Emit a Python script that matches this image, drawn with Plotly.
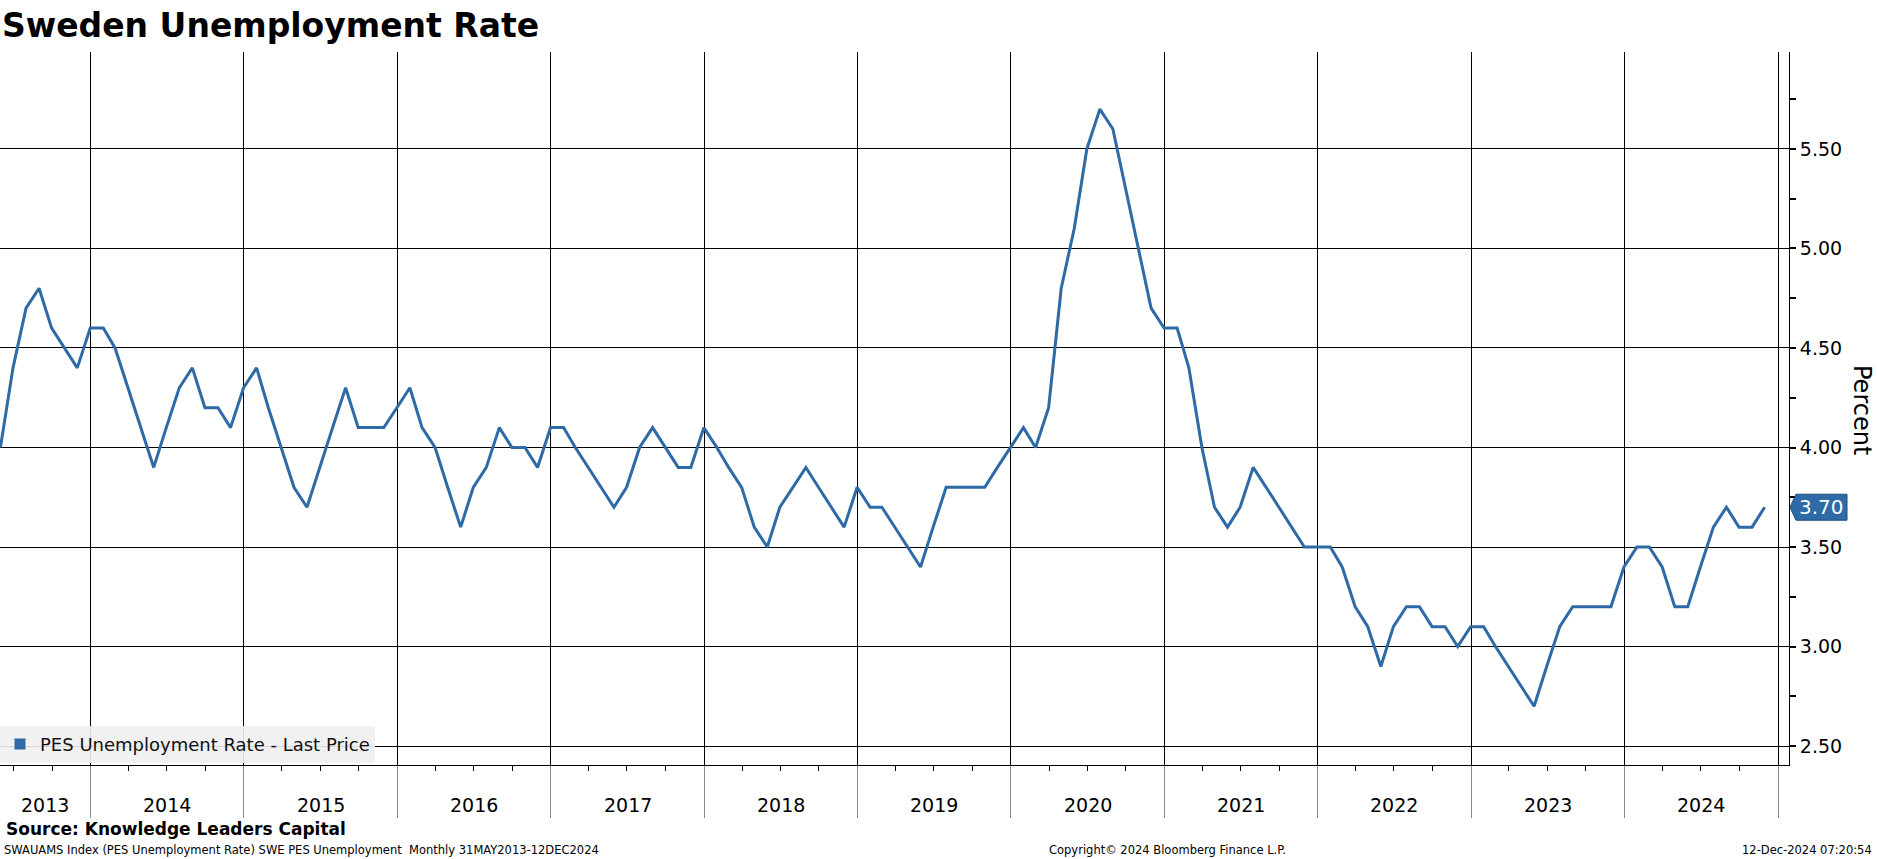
import pandas as pd
import plotly.graph_objects as go

# ---------------- data ----------------
start_month = "2013-05-31"
unemployment = [
    4.0, 4.4, 4.7, 4.8, 4.6, 4.5, 4.4, 4.6,            # May-Dec 2013
    4.6, 4.5, 4.3, 4.1, 3.9, 4.1, 4.3, 4.4, 4.2, 4.2, 4.1, 4.3,   # 2014
    4.4, 4.2, 4.0, 3.8, 3.7, 3.9, 4.1, 4.3, 4.1, 4.1, 4.1, 4.2,   # 2015
    4.3, 4.1, 4.0, 3.8, 3.6, 3.8, 3.9, 4.1, 4.0, 4.0, 3.9, 4.1,   # 2016
    4.1, 4.0, 3.9, 3.8, 3.7, 3.8, 4.0, 4.1, 4.0, 3.9, 3.9, 4.1,   # 2017
    4.0, 3.9, 3.8, 3.6, 3.5, 3.7, 3.8, 3.9, 3.8, 3.7, 3.6, 3.8,   # 2018
    3.7, 3.7, 3.6, 3.5, 3.4, 3.6, 3.8, 3.8, 3.8, 3.8, 3.9, 4.0,   # 2019
    4.1, 4.0, 4.2, 4.8, 5.1, 5.5, 5.7, 5.6, 5.3, 5.0, 4.7, 4.6,   # 2020
    4.6, 4.4, 4.0, 3.7, 3.6, 3.7, 3.9, 3.8, 3.7, 3.6, 3.5, 3.5,   # 2021
    3.5, 3.4, 3.2, 3.1, 2.9, 3.1, 3.2, 3.2, 3.1, 3.1, 3.0, 3.1,   # 2022
    3.1, 3.0, 2.9, 2.8, 2.7, 2.9, 3.1, 3.2, 3.2, 3.2, 3.2, 3.4,   # 2023
    3.5, 3.5, 3.4, 3.2, 3.2, 3.4, 3.6, 3.7, 3.6, 3.6, 3.7,        # Jan-Nov 2024
]
try:
    dates = pd.date_range(start_month, periods=len(unemployment), freq="ME")
except ValueError:
    dates = pd.date_range(start_month, periods=len(unemployment), freq="M")

year_labels = ["2013", "2014", "2015", "2016", "2017", "2018",
               "2019", "2020", "2021", "2022", "2023", "2024"]
y_tick_values = [2.5, 3.0, 3.5, 4.0, 4.5, 5.0, 5.5]

series_name = "PES Unemployment Rate - Last Price"
title_text = "Sweden Unemployment Rate"
source_text = "Source: Knowledge Leaders Capital"
footer_left = "SWAUAMS Index (PES Unemployment Rate) SWE PES Unemployment  Monthly 31MAY2013-12DEC2024"
footer_mid = "Copyright\u00a9 2024 Bloomberg Finance L.P."
footer_right = "12-Dec-2024 07:20:54"

# ---------------- layout constants ----------------
W, H = 1877, 859
PL, PR, PT, PB = 0, 1789, 52, 765
FONT = "DejaVu Sans"
LINE_COLOR = "#2d6aa6"
X_START, X_END = "2013-05-30", "2025-01-27"
LAST_YEAR_END = pd.Timestamp("2025-01-01")


def px_x(px):
    return (px - PL) / (PR - PL)


def px_y(py):
    return (PB - py) / (PB - PT)


fig = go.Figure()
fig.add_trace(go.Scatter(
    x=dates, y=unemployment, mode="lines",
    line=dict(color=LINE_COLOR, width=3),
    showlegend=False, hoverinfo="x+y",
))
# legend entry (square swatch like the original)
fig.add_trace(go.Scatter(
    x=[None], y=[None], mode="markers", name=series_name,
    marker=dict(symbol="square", size=11, color=LINE_COLOR),
    showlegend=True,
))

annotations = []
# year labels centered in the visible part of each year
xs = pd.Timestamp(X_START)
for lab in year_labels:
    yr = int(lab)
    a = max(pd.Timestamp(f"{yr}-01-01"), xs)
    b = min(pd.Timestamp(f"{yr + 1}-01-01"), LAST_YEAR_END)
    mid = a + (b - a) / 2
    annotations.append(dict(
        x=mid, y=px_y(805), xref="x", yref="paper", text=lab, showarrow=False,
        xanchor="center", yanchor="middle",
        font=dict(family=FONT, size=19, color="#000"),
    ))

# "Percent" axis title (reads top to bottom)
annotations.append(dict(
    x=px_x(1862), y=px_y(410), xref="paper", yref="paper", text="Percent",
    showarrow=False, textangle=90, xanchor="center", yanchor="middle",
    font=dict(family=FONT, size=24, color="#000"),
))

# last value tag
annotations.append(dict(
    x=1, y=unemployment[-1], xref="paper", yref="y",
    text=f"{unemployment[-1]:.2f}", showarrow=False,
    xanchor="left", yanchor="middle", xshift=8,
    font=dict(family=FONT, size=20, color="#ffffff"),
))

# source and footer
annotations.append(dict(
    x=px_x(4), y=px_y(829), xref="paper", yref="paper", text=f"<b>{source_text}</b>",
    showarrow=False, xanchor="left", yanchor="middle",
    font=dict(family=FONT, size=17, color="#000"),
))
annotations.append(dict(
    x=px_x(2), y=px_y(850), xref="paper", yref="paper", text=footer_left,
    showarrow=False, xanchor="left", yanchor="middle",
    font=dict(family=FONT, size=11.5, color="#000"),
))
annotations.append(dict(
    x=px_x(1167), y=px_y(850), xref="paper", yref="paper", text=footer_mid,
    showarrow=False, xanchor="center", yanchor="middle",
    font=dict(family=FONT, size=11.5, color="#000"),
))
annotations.append(dict(
    x=px_x(1874), y=px_y(850), xref="paper", yref="paper", text=footer_right,
    showarrow=False, xanchor="right", yanchor="middle",
    font=dict(family=FONT, size=11.5, color="#000"),
))

shapes = [dict(
    type="path", xref="paper", yref="y",
    xsizemode="pixel", ysizemode="pixel", xanchor=1, yanchor=unemployment[-1],
    path="M 1 0 L 7 13 L 58 13 L 58 -13 L 7 -13 Z",
    fillcolor=LINE_COLOR, line=dict(color="#1d4d7e", width=1), layer="above",
)]

fig.update_layout(
    width=W, height=H,
    margin=dict(l=PL, r=W - PR, t=PT, b=H - PB, pad=0),
    paper_bgcolor="#ffffff", plot_bgcolor="#ffffff",
    font=dict(family=FONT, color="#000"),
    title=dict(
        text=f"<b>{title_text}</b>", x=2 / W, xref="container", xanchor="left",
        y=1 - 25 / H, yref="container", yanchor="middle",
        font=dict(family=FONT, size=33, color="#000"),
    ),
    showlegend=True,
    legend=dict(
        x=0, y=0.003, xanchor="left", yanchor="bottom",
        bgcolor="rgba(240,240,240,0.9)", borderwidth=0,
        font=dict(family=FONT, size=18, color="#111"),
        itemwidth=30, tracegroupgap=0,
    ),
    annotations=annotations,
    shapes=shapes,
    xaxis=dict(
        type="date", range=[X_START, X_END],
        showgrid=True, gridcolor="#000", gridwidth=1,
        tick0="2014-01-01", dtick="M12",
        ticks="outside", ticklen=52, tickcolor="#8a8a8a", tickwidth=1,
        showticklabels=False, showline=True, linecolor="#000", linewidth=1,
        zeroline=False,
        minor=dict(dtick="M3", tick0="2014-01-01", ticks="outside", ticklen=5,
                   tickcolor="#000", showgrid=False),
    ),
    yaxis=dict(
        side="right", range=[2.405, 5.987],
        tickvals=y_tick_values, tickformat=".2f",
        showgrid=True, gridcolor="#000", gridwidth=1,
        ticks="outside", ticklen=6, tickwidth=2, tickcolor="#000",
        showline=True, linecolor="#000", linewidth=1, zeroline=False,
        tickfont=dict(family=FONT, size=19, color="#000"),
        minor=dict(dtick=0.25, tick0=2.5, ticks="outside", ticklen=6,
                   tickcolor="#000", showgrid=False),
    ),
    hovermode="closest",
)

fig.write_html(
    "out.html",
    config={"displayModeBar": False},
    post_script="document.body.style.margin='0';document.body.style.overflow='hidden';",
)
